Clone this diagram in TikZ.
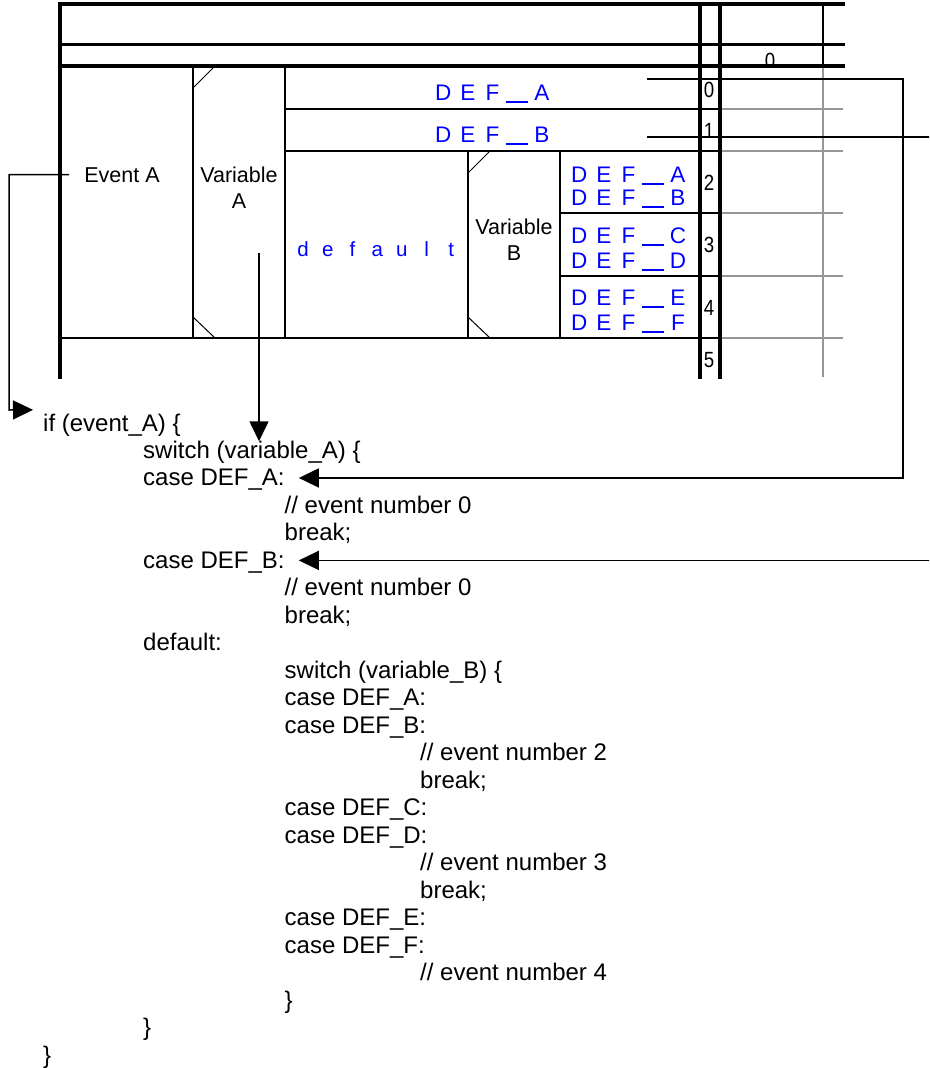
\documentclass[tikz,border=0pt]{standalone}
\usepackage{fontspec}
\setmainfont{Liberation Sans}
\usetikzlibrary{arrows.meta,calc}

\definecolor{defblue}{RGB}{0,0,255}
\definecolor{gridgrey}{RGB}{150,150,150}

% letter-spaced identifiers: every glyph sits in a fixed-pitch box,
% a '-' in the argument is set as a long underscore bar
\newcommand\glyphbox[1]{\makebox[24.7pt]{#1}}
\newcommand\ubar{\rule[-3pt]{22pt}{2.4pt}}
\def\spelloop#1{\ifx#1\relax\else\ifx#1-\glyphbox{\ubar}\else\glyphbox{#1}\fi\expandafter\spelloop\fi}
\newcommand\spelled[1]{\spelloop#1\relax}

\tikzset{
  thickrule/.style={line width=3.2pt, line cap=rect},
  thinrule/.style={line width=1.4pt},
  greyrule/.style={line width=1.4pt, draw=gridgrey},
  tick/.style={line width=1pt},
  label/.style={font=\fontsize{21.5pt}{26pt}\selectfont, inner sep=0pt, align=center},
  ident/.style={font=\fontsize{22.5pt}{24pt}\selectfont, text=defblue, inner sep=0pt, anchor=base west},
  identsmall/.style={ident, font=\fontsize{20.5pt}{22pt}\selectfont},
  rownum/.style={font=\fontsize{22pt}{24pt}\selectfont, inner sep=0pt, anchor=base, xscale=0.85},
  code/.style={font=\fontsize{24pt}{27.5pt}\selectfont, inner sep=0pt, anchor=base west,
               text height=17pt, text depth=5pt},
  conn/.style={line width=1.5pt, -{Triangle[length=20pt,width=19pt]}},
  plainconn/.style={line width=1.5pt}
}

\begin{document}
\begin{tikzpicture}[x=1pt, y=-1pt]
\useasboundingbox (0,0) rectangle (929,1068);
\clip (0,0) rectangle (929,1068);
\fill[white] (0,0) rectangle (929,1068);

% ---------- state table ----------
% header digit partly hidden under the rule
\begin{scope}
  \clip (740,40) rectangle (800,63.5);
  \node[rownum] (hdr) at (770,68) {0};
\end{scope}

% grey grid on the right
\draw[greyrule] (823,66) -- (823,377);
\foreach \yy in {109,151,213,276,338}
  \draw[greyrule] (720,\yy) -- (843,\yy);

% thin black cell borders
\draw[thinrule] (823,4) -- (823,66);
\draw[thinrule] (193,66) -- (193,338);
\draw[thinrule] (285,66) -- (285,338);
\draw[thinrule] (285,109) -- (720,109);
\draw[thinrule] (285,151) -- (720,151);
\draw[thinrule] (468,151) -- (468,338);
\draw[thinrule] (560,151) -- (560,338);
\draw[thinrule] (560,213) -- (720,213);
\draw[thinrule] (560,276) -- (720,276);
\draw[thinrule] (60,338) -- (720,338);

% corner ticks of the variable columns
\draw[tick] (193,88) -- (215,66);
\draw[tick] (193,317) -- (215,338);
\draw[tick] (468,173) -- (490,151);
\draw[tick] (468,317) -- (490,338);

% heavy rules
\draw[thickrule] (60,4) -- (843,4);
\draw[thickrule] (60,44.5) -- (843,44.5);
\draw[thickrule] (60,66) -- (843,66);
\draw[thickrule] (60,4) -- (60,377);
\draw[thickrule] (700,4) -- (700,377);
\draw[thickrule] (720,4) -- (720,377);

% row numbers
\foreach \n/\b in {0/97,1/138,2/190,3/252,4/315,5/367}
  \node[rownum] (row\n) at (709,\b) {\n};

% labels
\node[label, anchor=base] (evA) at (122,182) {Event A};
\node[label] (varA) at (239,188) {Variable\\A};
\node[label] (varB) at (514,240) {Variable\\B};

% case identifiers
\node[ident] (cA)  at (430.6,100) {\spelled{DEF-A}};
\node[ident] (cB)  at (430.6,142) {\spelled{DEF-B}};
\node[ident] (cA2) at (566.6,182) {\spelled{DEF-A}};
\node[ident] (cB2) at (566.6,205) {\spelled{DEF-B}};
\node[ident] (cC)  at (566.6,243) {\spelled{DEF-C}};
\node[ident] (cD)  at (566.6,268) {\spelled{DEF-D}};
\node[ident] (cE)  at (566.6,305) {\spelled{DEF-E}};
\node[ident] (cF)  at (566.6,330) {\spelled{DEF-F}};
\node[identsmall] (dflt) at (290.6,256.7) {\spelled{default}};

% ---------- generated code ----------
\newcommand\codeline[4]{\node[code] (#1) at (#3,{431+27.48*#2}) {#4};}
\codeline{ifn}{0}{43}{if (event\_A) \{}
\codeline{swA}{1}{143}{switch (variable\_A) \{}
\codeline{caseA}{2}{143}{case DEF\_A:}
\codeline{evz}{3}{284.5}{// event number 0}
\codeline{brz}{4}{284.5}{break;}
\codeline{caseB}{5}{143}{case DEF\_B:}
\codeline{evo}{6}{284.5}{// event number 0}
\codeline{bro}{7}{284.5}{break;}
\codeline{dfl}{8}{143}{default:}
\codeline{swB}{9}{284.5}{switch (variable\_B) \{}
\codeline{sa}{10}{284.5}{case DEF\_A:}
\codeline{sb}{11}{284.5}{case DEF\_B:}
\codeline{evtwo}{12}{420}{// event number 2}
\codeline{brtwo}{13}{420}{break;}
\codeline{sc}{14}{284.5}{case DEF\_C:}
\codeline{sd}{15}{284.5}{case DEF\_D:}
\codeline{evthree}{16}{420}{// event number 3}
\codeline{brthree}{17}{420}{break;}
\codeline{se}{18}{284.5}{case DEF\_E:}
\codeline{sf}{19}{284.5}{case DEF\_F:}
\codeline{evfour}{20}{420}{// event number 4}
\codeline{clB}{21}{284.5}{\}}
\codeline{clA}{22}{143}{\}}
\codeline{clif}{23}{43}{\}}

% ---------- connectors ----------
\coordinate (varAsrc) at (259,253);
\coordinate (srcA) at (647,79);
\coordinate (srcB) at (647,137);

\draw[conn] ($(evA.west)+(-15,0)$) -| (9,410) -- ($(ifn.north west)+(-10,-4)$);
\draw[conn] (varAsrc) -- (varAsrc |- swA.north);
\draw[conn] (srcA) -- ++(256,0) |- ($(caseA.east)+(14,-2)$);
\draw[conn] (srcB) -- ++(320,0) |- ($(caseB.east)+(14,-2)$);
\end{tikzpicture}
\end{document}
